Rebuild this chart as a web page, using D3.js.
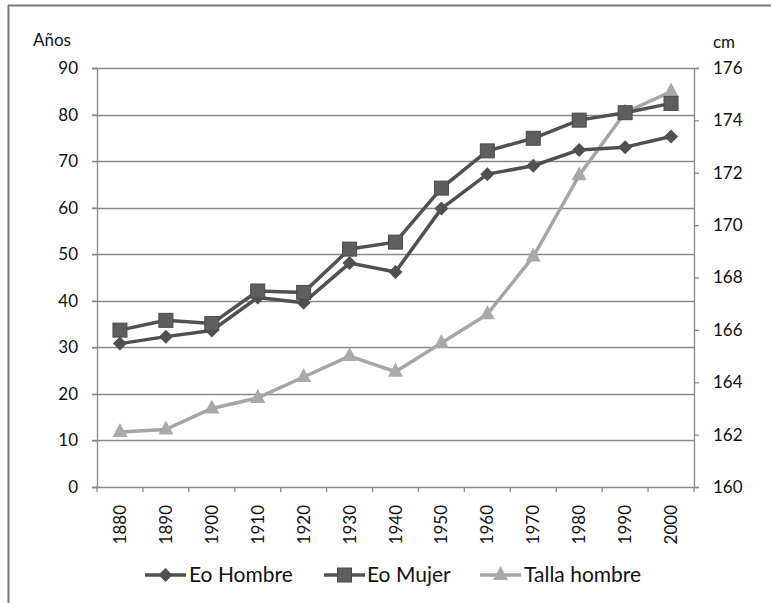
<!DOCTYPE html>
<html lang="es">
<head>
<meta charset="utf-8">
<title>Esperanza de vida y talla</title>
<style>
  * { margin:0; padding:0; }
  body { background:#fff; }
  svg text { font-family: Lato, "Open Sans", sans-serif; fill:#111; }
</style>
<script src="https://d3js.org/d3.v7.min.js"></script>
</head>
<body>
<svg id="chart" width="771" height="603"></svg>
<script>
var years = ["1880","1890","1900","1910","1920","1930","1940","1950","1960","1970","1980","1990","2000"];
var eoHombre = [30.8, 32.3, 33.6, 40.7, 39.6, 48.1, 46.2, 59.8, 67.2, 69.0, 72.4, 73.0, 75.3];
var eoMujer  = [33.7, 35.8, 35.1, 42.1, 41.8, 51.1, 52.6, 64.2, 72.2, 74.9, 78.8, 80.4, 82.4];
var tallaHombre = [162.1, 162.2, 163.0, 163.4, 164.2, 165.0, 164.4, 165.5, 166.6, 168.8, 171.9, 174.3, 175.1];
var leftTicks = [0,10,20,30,40,50,60,70,80,90];
var rightTicks = [160,162,164,166,168,170,172,174,176];

var svg = d3.select("#chart");
var pLeft = 97, pRight = 694, pTop = 68, pBottom = 487;

var x = d3.scaleBand().domain(years).range([pLeft, pRight]);
var yL = d3.scaleLinear().domain([0,90]).range([pBottom, pTop]);
var yR = d3.scaleLinear().domain([160,176]).range([pBottom, pTop]);

// outer frame (only left and top edges visible)
svg.append("line").attr("x1",8.5).attr("x2",8.5).attr("y1",5).attr("y2",603)
  .attr("stroke","#777").attr("stroke-width",2);
svg.append("line").attr("x1",8).attr("x2",771).attr("y1",5.5).attr("y2",5.5)
  .attr("stroke","#777").attr("stroke-width",2);

// gridlines
svg.append("g").selectAll("line").data(leftTicks.slice(1)).enter().append("line")
  .attr("x1", pLeft - 5).attr("x2", pRight)
  .attr("y1", function(d){return Math.round(yL(d))+0.5;})
  .attr("y2", function(d){return Math.round(yL(d))+0.5;})
  .attr("stroke","#8a8a8a").attr("stroke-width",1.3);

// left axis
var gL = svg.append("g").attr("transform","translate("+pLeft+",0)")
  .call(d3.axisLeft(yL).tickValues(leftTicks).tickSize(5).tickPadding(14));
gL.selectAll("line, path").attr("stroke","#888").attr("stroke-width",1.3);
gL.selectAll("text").style("font-size","17px").attr("fill","#111");

// right axis
var gR = svg.append("g").attr("transform","translate("+pRight+",0)")
  .call(d3.axisRight(yR).tickValues(rightTicks).tickSize(5).tickPadding(14));
gR.selectAll("line, path").attr("stroke","#888").attr("stroke-width",1.3);
gR.selectAll("text").style("font-size","17px").attr("fill","#111");

// bottom axis
var bTicks = years.map(function(d){return x(d);}).concat([pRight]);
svg.append("line").attr("x1",pLeft-5).attr("x2",pRight).attr("y1",pBottom+0.5).attr("y2",pBottom+0.5)
  .attr("stroke","#888").attr("stroke-width",1.3);
svg.append("g").selectAll("line").data(bTicks).enter().append("line")
  .attr("x1",function(d){return d;}).attr("x2",function(d){return d;})
  .attr("y1",pBottom).attr("y2",pBottom+5)
  .attr("stroke","#888").attr("stroke-width",1.3);
svg.append("g").selectAll("text").data(years).enter().append("text")
  .attr("transform",function(d){return "translate("+(x(d)+x.bandwidth()/2+6)+","+(pBottom+18)+") rotate(-90)";})
  .attr("text-anchor","end")
  .style("font-size","17px")
  .text(function(d){return d;});

// axis titles
svg.append("text").attr("x",33).attr("y",46).style("font-size","17px").text("Años");
svg.append("text").attr("x",713).attr("y",48).style("font-size","17px").text("cm");

var cx = function(i){ return x(years[i]) + x.bandwidth()/2; };

var series = [
  {name:"Eo Hombre", vals:eoHombre, y:yL, color:"#505050", shape:"diamond"},
  {name:"Eo Mujer", vals:eoMujer, y:yL, color:"#525252", shape:"square"},
  {name:"Talla hombre", vals:tallaHombre, y:yR, color:"#a6a6a6", shape:"triangle"}
];

function marker(g, shape, px, py) {
  if (shape === "square") {
    g.append("rect").attr("x",px-7).attr("y",py-7).attr("width",14).attr("height",14)
      .attr("fill","#5e5e5e").attr("stroke","#4a4a4a").attr("stroke-width",1);
  } else if (shape === "diamond") {
    g.append("path").attr("d","M"+px+","+(py-7)+"L"+(px+7)+","+py+"L"+px+","+(py+7)+"L"+(px-7)+","+py+"Z")
      .attr("fill","#505050");
  } else {
    g.append("path").attr("d","M"+px+","+(py-9)+"L"+(px+7.5)+","+(py+5)+"L"+(px-7.5)+","+(py+5)+"Z")
      .attr("fill","#a9a9a9");
  }
}

// draw Talla first, then Hombre, then Mujer
[2,0,1].forEach(function(k){
  var s = series[k];
  var line = d3.line().x(function(d,i){return cx(i);}).y(function(d){return s.y(d);});
  var g = svg.append("g");
  g.append("path").datum(s.vals).attr("d",line)
    .attr("fill","none").attr("stroke",s.color).attr("stroke-width",3.5)
    .attr("stroke-linejoin","round");
  s.vals.forEach(function(v,i){ marker(g, s.shape, cx(i), s.y(v)); });
});

// legend
var legendItems = [
  {s:series[0], x1:145, tx:189},
  {s:series[1], x1:324, tx:367},
  {s:series[2], x1:480, tx:524}
];
var ly = 575;
legendItems.forEach(function(it){
  var g = svg.append("g");
  g.append("line").attr("x1",it.x1).attr("x2",it.x1+41).attr("y1",ly).attr("y2",ly)
    .attr("stroke",it.s.color).attr("stroke-width",3.5);
  marker(g, it.s.shape, it.x1+20.5, ly);
  g.append("text").attr("x",it.tx).attr("y",ly+7).style("font-size","21px").text(it.s.name);
});
</script>
</body>
</html>
